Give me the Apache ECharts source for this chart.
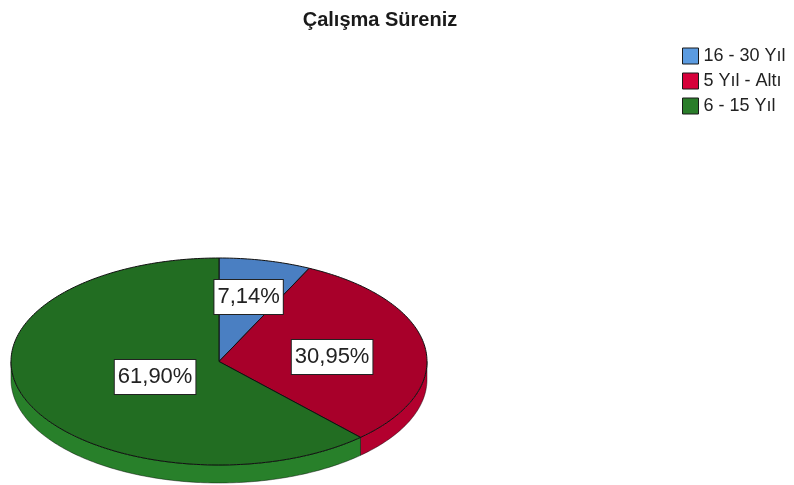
<!DOCTYPE html>
<html><head><meta charset="utf-8">
<script src="https://cdn.jsdelivr.net/npm/echarts@6/dist/echarts.min.js"></script>
<style>html,body{margin:0;padding:0;background:#fff}#c{width:794px;height:485px}</style>
</head><body><div id="c"></div>
<script>
const categories = ['16 - 30 Yıl', '5 Yıl - Altı', '6 - 15 Yıl'];
const percentages = [7.14, 30.95, 61.90];
const percentLabels = ['7,14%', '30,95%', '61,90%'];
const chartTitle = 'Çalışma Süreniz';

// styles / layout
const legendColors = ['#5b9be0', '#d6003a', '#2a7d2a'];
const topColors = ['#4a7fc2', '#a8002a', '#226d22'];
const sideColors = ['#3f6fae', '#b3002e', '#28802a'];
const labelRadius = [0.64, 0.55, 0.33];
const labelShiftY = [0, 4, 3];
const PIE = {cx: 219, cy: 361.5, rx: 208, ry: 103.5, depth: 18};

const total = percentages.reduce((a, b) => a + b, 0);
function pt(t, d) { return [PIE.cx + PIE.rx * Math.sin(t), PIE.cy - PIE.ry * Math.cos(t) + d]; }
function arc(a0, a1, d) {
  const n = Math.max(2, Math.ceil((a1 - a0) / (Math.PI / 180)));
  const pts = [];
  for (let i = 0; i <= n; i++) pts.push(pt(a0 + (a1 - a0) * i / n, d));
  return pts;
}

function renderItem(params, api) {
  const i = params.dataIndex;
  const v = api.value(0);
  let before = 0;
  for (let k = 0; k < i; k++) before += percentages[k];
  const start = before / total * Math.PI * 2;
  const end = start + v / total * Math.PI * 2;
  const children = [];
  const s = Math.max(start, Math.PI / 2), e = Math.min(end, Math.PI * 1.5);
  if (s < e) {
    children.push({
      type: 'polygon', z2: 5,
      shape: {points: arc(s, e, 0).concat(arc(s, e, PIE.depth).reverse())},
      style: {fill: sideColors[i], stroke: 'rgba(0,0,0,0.55)', lineWidth: 0.8, lineJoin: 'round'}
    });
  }
  children.push({
    type: 'polygon', z2: 20,
    shape: {points: [[PIE.cx, PIE.cy]].concat(arc(start, end, 0))},
    style: {fill: topColors[i], stroke: '#111', lineWidth: 1, lineJoin: 'round'}
  });
  const mid = (start + end) / 2;
  const f = labelRadius[i];
  const lx = PIE.cx + PIE.rx * f * Math.sin(mid);
  const ly = PIE.cy - PIE.ry * f * Math.cos(mid) + labelShiftY[i];
  children.push({
    type: 'text', z2: 30,
    style: {
      text: percentLabels[i], x: lx, y: ly, align: 'center', verticalAlign: 'middle',
      fontSize: 22, fontFamily: 'Liberation Sans, Arial, sans-serif', fill: '#222',
      backgroundColor: '#fff', borderColor: '#222', borderWidth: 1, padding: [5, 3, 5, 3], lineHeight: 24
    }
  });
  return {type: 'group', children: children};
}

const chart = echarts.init(document.getElementById('c'), null, {renderer: 'canvas'});
chart.setOption({
  animation: false,
  backgroundColor: '#fff',
  title: {
    text: chartTitle, left: 375, top: 5, textAlign: 'center',
    textStyle: {fontSize: 20, fontWeight: 'bold', color: '#1a1a1a', fontFamily: 'Liberation Sans, Arial, sans-serif'}
  },
  legend: {
    orient: 'vertical', left: 677, top: 42, icon: 'rect',
    itemWidth: 16, itemHeight: 16, itemGap: 7,
    data: categories,
    itemStyle: {borderColor: '#1a1a1a', borderWidth: 1},
    textStyle: {fontSize: 18, lineHeight: 16, color: '#222', fontFamily: 'Liberation Sans, Arial, sans-serif'},
    selectedMode: false
  },
  series: [
    {
      type: 'pie', name: 'legendSource', silent: true, center: [-200, -200], radius: 1,
      label: {show: false}, labelLine: {show: false},
      data: categories.map((c, i) => ({name: c, value: percentages[i], itemStyle: {color: legendColors[i]}}))
    },
    {
      type: 'custom', name: 'pie3d', coordinateSystem: 'none', silent: true,
      renderItem: renderItem,
      data: percentages.map(v => [v])
    }
  ]
});
</script>
</body></html>
